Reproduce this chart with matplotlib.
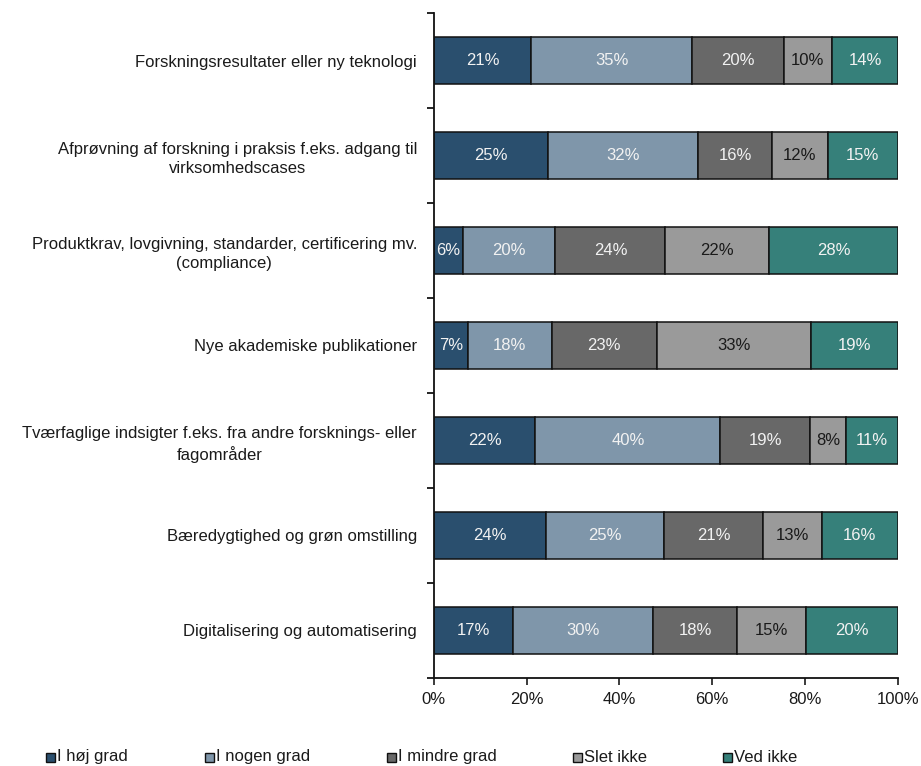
import matplotlib.pyplot as plt
from matplotlib.patches import Rectangle
from matplotlib.ticker import FixedLocator, PercentFormatter

plt.rcParams['font.family'] = ['Liberation Sans', 'DejaVu Sans']

categories = [
    'Forskningsresultater eller ny teknologi',
    'Afprøvning af forskning i praksis f.eks. adgang til\nvirksomhedscases',
    'Produktkrav, lovgivning, standarder, certificering mv.\n(compliance)',
    'Nye akademiske publikationer',
    'Tværfaglige indsigter f.eks. fra andre forsknings- eller\nfagområder',
    'Bæredygtighed og grøn omstilling',
    'Digitalisering og automatisering',
]
series = ['I høj grad', 'I nogen grad', 'I mindre grad', 'Slet ikke', 'Ved ikke']

hoej = [21.0, 24.6, 6.3, 7.4, 21.9, 24.2, 17.0]
nogen = [34.7, 32.4, 19.9, 18.0, 39.8, 25.4, 30.2]
mindre = [19.7, 15.8, 23.7, 22.6, 19.4, 21.3, 18.2]
slet = [10.4, 12.1, 22.4, 33.3, 7.6, 12.7, 14.7]
vedikke = [14.2, 15.1, 27.7, 18.7, 11.3, 16.4, 19.9]
values = [hoej, nogen, mindre, slet, vedikke]

colors = ['#2A4F6E', '#7F96AA', '#686868', '#9A9A9A', '#36807A']
text_colors = ['#F2F2F2', '#F2F2F2', '#F2F2F2', '#1A1A1A', '#F2F2F2']

fig = plt.figure(figsize=(9.21, 7.66), dpi=100)
ax = fig.add_axes([0.471, 0.115, 0.504, 0.868])

ypos = list(range(len(categories)))
left = [0.0] * len(categories)
for vals, col, tcol in zip(values, colors, text_colors):
    ax.barh(ypos, vals, left=left, height=0.5, color=col,
            edgecolor='#111111', linewidth=1.1)
    for i, v in enumerate(vals):
        ax.text(left[i] + v / 2, i, f'{v:.0f}%', ha='center', va='center',
                color=tcol, fontsize=12)
    left = [l + v for l, v in zip(left, vals)]

ax.set_xlim(0, 100)
ax.set_ylim(len(categories) - 0.5, -0.5)
ax.xaxis.set_major_locator(FixedLocator([0, 20, 40, 60, 80, 100]))
ax.xaxis.set_major_formatter(PercentFormatter(decimals=0))

ax.set_yticks(ypos)
ax.set_yticklabels(categories, fontsize=12, color='#1A1A1A',
                   multialignment='center', linespacing=1.35)
ax.yaxis.set_minor_locator(FixedLocator([y - 0.5 for y in range(len(categories) + 1)]))
ax.tick_params(axis='y', which='major', length=0, pad=12)
ax.tick_params(axis='y', which='minor', length=5, width=1.2, direction='out')
ax.tick_params(axis='x', length=5, width=1.2, direction='out', labelsize=12,
               pad=5, colors='#1A1A1A')

for s in ['top', 'right']:
    ax.spines[s].set_visible(False)
for s in ['left', 'bottom']:
    ax.spines[s].set_linewidth(1.3)
    ax.spines[s].set_color('#111111')

# legend along the bottom
leg_x = [46, 205, 387, 573, 723]
leg_y = 757
W, H = 921, 766
for x, name, col in zip(leg_x, series, colors):
    fig.add_artist(Rectangle((x / W, 1 - (leg_y + 4.5) / H), 9 / W, 9 / H,
                             transform=fig.transFigure, facecolor=col,
                             edgecolor='#111111', linewidth=1.0))
    fig.text((x + 11) / W, 1 - leg_y / H, name, ha='left', va='center',
             fontsize=12, color='#1A1A1A')

fig.savefig('out.png', dpi=100, facecolor='white')
